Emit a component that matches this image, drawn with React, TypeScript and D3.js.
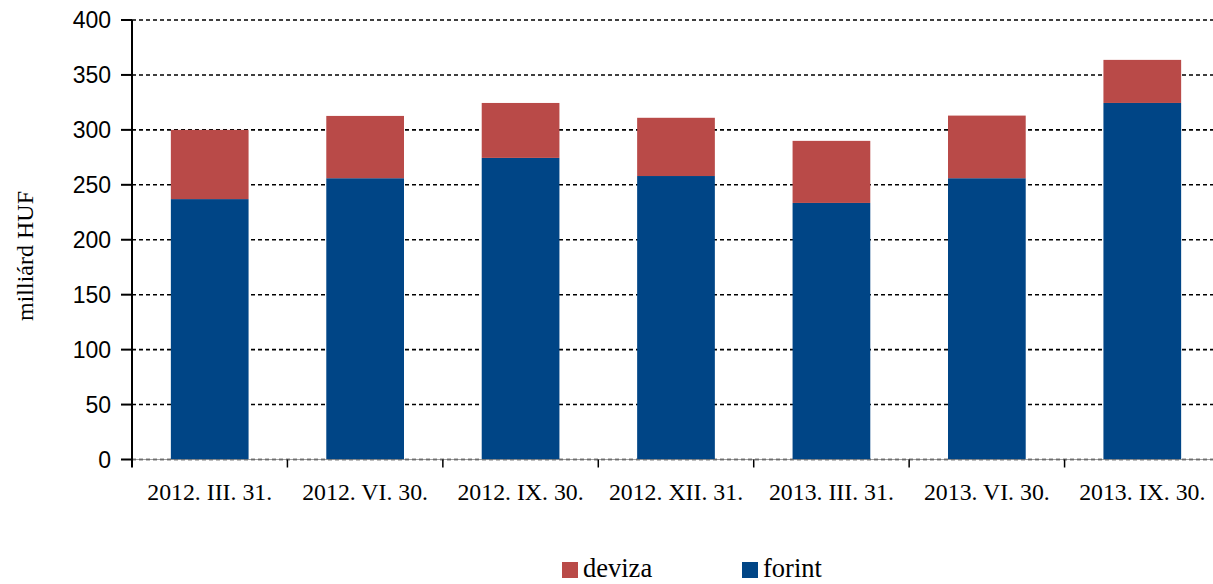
import React from "react";
import * as d3 from "d3";

const categories = ["2012. III. 31.", "2012. VI. 30.", "2012. IX. 30.", "2012. XII. 31.", "2013. III. 31.", "2013. VI. 30.", "2013. IX. 30."];
const forint = [237, 256, 274.5, 258, 233.5, 256, 324.5];
const deviza = [63, 56.7, 50, 53, 56.5, 57, 39.2];
const yTicks = [0, 50, 100, 150, 200, 250, 300, 350, 400];
const seriesNames = ["deviza", "forint"];
const colors: Record<string, string> = { deviza: "#B94A48", forint: "#004586" };

export default function App() {
  const W = 1213, H = 584;
  const left = 132, right = 1220, top = 20, bottom = 459.5;
  const x = d3.scaleBand().domain(categories).range([left, right]).paddingInner(0.5).paddingOuter(0.25);
  const xOuter = d3.scaleBand().domain(categories).range([left, right]);
  const y = d3.scaleLinear().domain([0, 400]).range([bottom, top]);

  const serif = "'Liberation Serif', 'Times New Roman', serif";
  const sans = "'Liberation Sans', Arial, sans-serif";

  return (
    <svg width={W} height={H} style={{ position: "absolute", left: 0, top: 0, background: "#fff" }}>
      {yTicks.map((t) => (
        <line key={"g" + t} x1={left} x2={W} y1={y(t)} y2={y(t)} stroke="#000" strokeWidth={1.6} strokeDasharray="4,3" />
      ))}
      {categories.map((c, i) => (
        <g key={c}>
          <rect x={x(c)} y={y(forint[i])} width={x.bandwidth()} height={y(0) - y(forint[i])} fill={colors.forint} />
          <rect x={x(c)} y={y(forint[i] + deviza[i])} width={x.bandwidth()} height={y(forint[i]) - y(forint[i] + deviza[i])} fill={colors.deviza} />
        </g>
      ))}
      <line x1={left} x2={W} y1={bottom} y2={bottom} stroke="#888" strokeWidth={0.8} />
      <line x1={left} x2={left} y1={top} y2={bottom + 8} stroke="#000" strokeWidth={2} />
      {yTicks.map((t) => (
        <g key={"t" + t}>
          <line x1={left - 11} x2={left} y1={y(t)} y2={y(t)} stroke="#000" strokeWidth={2} />
          <text x={left - 21} y={y(t)} dy="0.36em" textAnchor="end" fontFamily={sans} fontSize={23} fill="#000">{t}</text>
        </g>
      ))}
      {categories.map((c, i) => (
        <g key={"x" + c}>
          {i > 0 && <line x1={xOuter(c)} x2={xOuter(c)} y1={bottom} y2={bottom + 8} stroke="#000" strokeWidth={1.5} />}
          <text x={(xOuter(c) as number) + xOuter.bandwidth() / 2} y={500} textAnchor="middle" fontFamily={serif} fontSize={23.8} fill="#000">{c}</text>
        </g>
      ))}
      <text transform={`translate(33,256) rotate(-90)`} textAnchor="middle" fontFamily={serif} fontSize={24} fill="#000">milliárd HUF</text>
      {seriesNames.map((s, i) => {
        const lx = [562, 742][i];
        return (
          <g key={s}>
            <rect x={lx} y={562} width={16} height={16} fill={colors[s]} />
            <text x={lx + 21} y={577} fontFamily={serif} fontSize={26.5} fill="#000">{s}</text>
          </g>
        );
      })}
    </svg>
  );
}
